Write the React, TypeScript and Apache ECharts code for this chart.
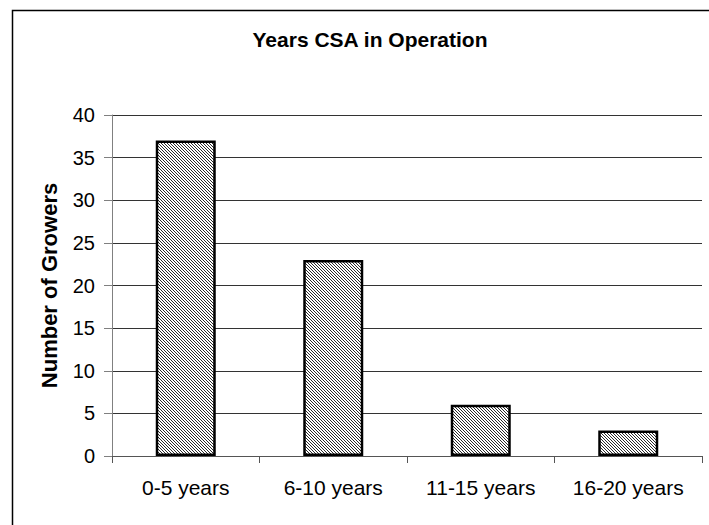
import React, { useEffect, useRef } from "react";
import * as echarts from "echarts";

const categories = ["0-5 years", "6-10 years", "11-15 years", "16-20 years"];
const growers = [37, 23, 6, 3];
const yTicks = { min: 0, max: 40, interval: 5 };
const titleText = "Years CSA in Operation";
const yName = "Number of Growers";

function makeHatch(): HTMLCanvasElement {
  const c = document.createElement("canvas");
  c.width = 3;
  c.height = 3;
  const ctx = c.getContext("2d")!;
  ctx.fillStyle = "#ffffff";
  ctx.fillRect(0, 0, 3, 3);
  for (let y = 0; y < 3; y++) {
    for (let x = 0; x < 3; x++) {
      const d = (((x - y) % 3) + 3) % 3;
      if (d === 0) {
        ctx.fillStyle = "#2a2a2a";
        ctx.fillRect(x, y, 1, 1);
      }
    }
  }
  return c;
}

export default function App() {
  const ref = useRef<HTMLDivElement>(null);
  useEffect(() => {
    document.body.style.margin = "0";
    const chart = echarts.init(ref.current!, null, { renderer: "svg" });
    const font = "'Liberation Sans', Arial, sans-serif";
    chart.setOption({
      animation: false,
      backgroundColor: "#ffffff",
      textStyle: { fontFamily: font },
      title: {
        text: titleText,
        left: 365,
        top: 24,
        textAlign: "center",
        textStyle: { fontFamily: font, fontSize: 21, fontWeight: "bold", color: "#000" },
      },
      graphic: [
        {
          type: "rect",
          shape: { x: 12.5, y: 10.5, width: 720, height: 540 },
          style: { fill: "none", stroke: "#000", lineWidth: 1.5 },
          silent: true,
        },
      ],
      grid: { left: 112, right: 7, top: 115, bottom: 69, containLabel: false },
      xAxis: {
        type: "category",
        data: categories,
        axisLine: { show: true, lineStyle: { color: "#555", width: 1 } },
        axisTick: { show: true, length: 7, lineStyle: { color: "#555" } },
        axisLabel: { color: "#000", fontSize: 21, fontFamily: font, margin: 21 },
      },
      yAxis: {
        type: "value",
        min: yTicks.min,
        max: yTicks.max,
        interval: yTicks.interval,
        name: yName,
        nameLocation: "middle",
        nameGap: 52,
        nameTextStyle: { fontFamily: font, fontSize: 22, fontWeight: "bold", color: "#000" },
        axisLine: { show: true, lineStyle: { color: "#808080", width: 1 } },
        axisTick: { show: true, length: 8, lineStyle: { color: "#808080" } },
        axisLabel: { color: "#000", fontSize: 20, fontFamily: font, margin: 17 },
        splitLine: { show: true, lineStyle: { color: "#333", width: 1 } },
      },
      series: [
        {
          type: "bar",
          data: growers,
          barWidth: 60,
          itemStyle: {
            color: { image: makeHatch(), repeat: "repeat" },
            borderColor: "#000",
            borderWidth: 2.5,
          },
        },
      ],
    });
    return () => chart.dispose();
  }, []);
  return <div ref={ref} style={{ width: 709, height: 525 }} />;
}
